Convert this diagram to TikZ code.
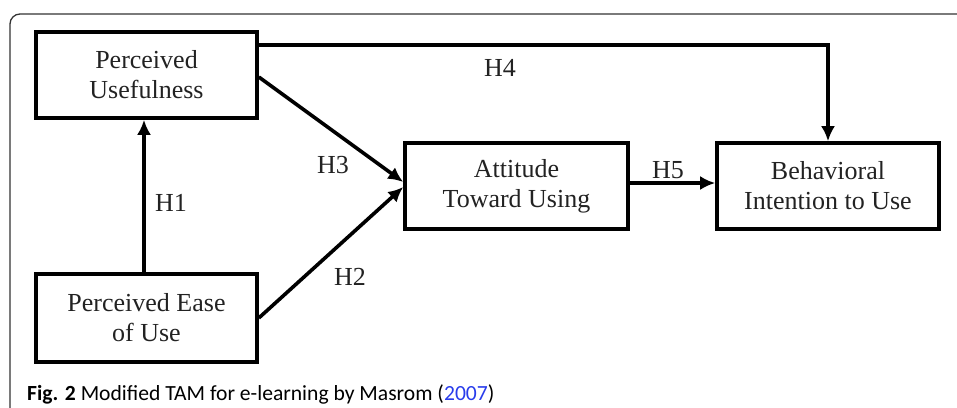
\documentclass[tikz,border=0pt]{standalone}
\usepackage{fontspec}
\setmainfont{Liberation Serif}
\newfontfamily\capfont{Carlito}
\usetikzlibrary{arrows.meta}
\definecolor{txt}{HTML}{222222}
\definecolor{framec}{HTML}{333333}
\definecolor{linkblue}{RGB}{40,60,235}
\tikzset{
  box/.style={draw=black, line width=3.6pt, rectangle, minimum width=221pt, minimum height=86pt,
    inner sep=0pt, align=center, text=txt, font=\fontsize{26}{30}\selectfont},
  arr/.style={line width=3.6pt, -{Latex[length=15pt,width=14pt]}},
  lab/.style={text=txt, font=\fontsize{26}{30}\selectfont, inner sep=0pt}
}
\begin{document}
\begin{tikzpicture}[x=1pt,y=-1pt]
\useasboundingbox (0,0) rectangle (957,407);
\draw[framec, line width=1.3pt, rounded corners=10pt] (10,408) -- (10,14) -- (958,14);
\node[box] (PU) at (146.5,75) {Perceived\\Usefulness};
\node[box, minimum height=88pt] (PEOU) at (146.5,318) {Perceived Ease\\of Use};
\node[box, minimum width=223pt] (ATU) at (516.5,186) {Attitude\\Toward Using};
\node[box, minimum width=222pt] (BIU) at (828,186) {Behavioral\\Intention to Use};
\draw[arr] ([xshift=-2.5pt]PEOU.north) -- ([xshift=-2.5pt]PU.south);
\draw[arr] ([yshift=-2pt]PU.east) -- ([yshift=4pt]ATU.west);
\draw[arr] (PEOU.east) -- ([yshift=-1pt]ATU.west);
\draw[arr] ([yshift=-15pt]PU.north east) -| (BIU.north);
\draw[arr] ([yshift=3pt]ATU.east) -- ([yshift=3pt]BIU.west);
\node[lab] (h1) at (171,203) {H1};
\node[lab] (h2) at (350,277) {H2};
\node[lab] (h3) at (333,165) {H3};
\node[lab] (h4) at (500,68) {H4};
\node[lab] (h5) at (668,170) {H5};
\node[anchor=base west, inner sep=0pt, text=black, font=\capfont\fontsize{21.6}{26}\selectfont] (cap) at (27,400)
  {\textbf{Fig. 2} Modified TAM for e-learning by Masrom (\textcolor{linkblue}{2007})};
\end{tikzpicture}
\end{document}
